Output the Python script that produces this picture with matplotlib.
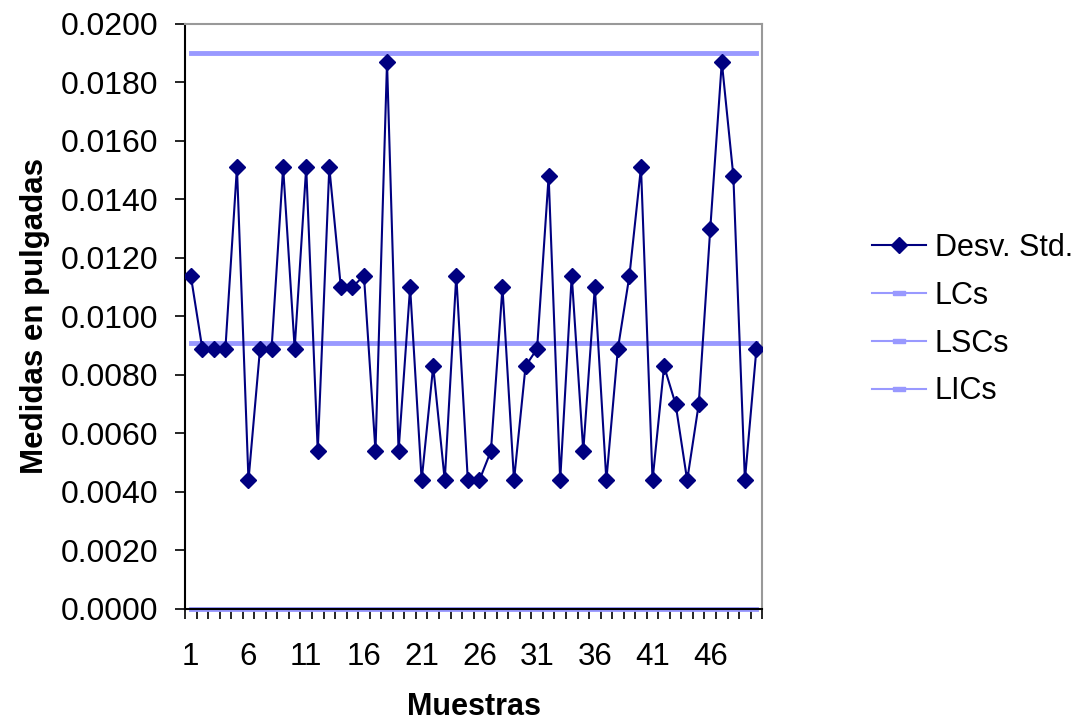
import numpy as np
import matplotlib.pyplot as plt
import matplotlib.lines as mlines

plt.rcParams['font.family'] = ['Liberation Sans', 'DejaVu Sans']

# desviacion estandar por muestra (50 muestras)
desv_std = [0.0114, 0.0089, 0.0089, 0.0089, 0.0151, 0.0044, 0.0089, 0.0089, 0.0151, 0.0089,
            0.0151, 0.0054, 0.0151, 0.0110, 0.0110, 0.0114, 0.0054, 0.0187, 0.0054, 0.0110,
            0.0044, 0.0083, 0.0044, 0.0114, 0.0044, 0.0044, 0.0054, 0.0110, 0.0044, 0.0083,
            0.0089, 0.0148, 0.0044, 0.0114, 0.0054, 0.0110, 0.0044, 0.0089, 0.0114, 0.0151,
            0.0044, 0.0083, 0.0070, 0.0044, 0.0070, 0.0130, 0.0187, 0.0148, 0.0044, 0.0089]
muestras = list(range(1, len(desv_std) + 1))
lc = 0.0091
lsc = 0.0190
lic = 0.0000
xtick_labels = ['1', '6', '11', '16', '21', '26', '31', '36', '41', '46']

fig = plt.figure(figsize=(10.85, 7.25), dpi=100)
ax = fig.add_axes([0.1705, 0.16, 0.532, 0.807])

n = len(muestras)
light = '#9999FF'
navy = '#000080'
dash = [(-1, -0.35), (1, -0.35), (1, 0.35), (-1, 0.35), (-1, -0.35)]

ax.plot(muestras, desv_std, color=navy, lw=1.5, marker='D', ms=8, label='Desv. Std.', zorder=3)
ax.plot(muestras, [lc] * n, color=light, lw=3.5, label='LCs', zorder=2)
ax.plot(muestras, [lsc] * n, color=light, lw=3.5, label='LSCs', zorder=2)
ax.plot(muestras, [lic] * n, color=light, lw=3.5, label='LICs', zorder=2, clip_on=False)

ax.set_xlim(0.5, n + 0.5)
ax.set_ylim(0, 0.02)
yt = np.arange(0, 0.0201, 0.002)
ax.set_yticks(yt)
ax.set_yticklabels(['%.4f' % v for v in yt])
ax.set_xticks([int(t) for t in xtick_labels])
ax.set_xticklabels(xtick_labels)
ax.set_xticks(np.arange(0.5, n + 1, 1), minor=True)
ax.tick_params(axis='x', which='major', length=0, pad=24, labelsize=22.5)
ax.tick_params(axis='x', which='minor', length=7, width=1.2, direction='out')
ax.tick_params(axis='y', length=7.2, width=1.2, labelsize=23, pad=12)

for s in ['left', 'bottom']:
    ax.spines[s].set_linewidth(1.5)
for s in ['top', 'right']:
    ax.spines[s].set_color('#999999')
    ax.spines[s].set_linewidth(1.5)

ax.set_xlabel('Muestras', fontsize=22, fontweight='bold', labelpad=14)
ax.set_ylabel('Medidas en pulgadas', fontsize=22.5, fontweight='bold', labelpad=8)

labels = ['Desv. Std.', 'LCs', 'LSCs', 'LICs']
handles = [mlines.Line2D([], [], color=navy, lw=1.5, marker='D', ms=8)] + \
          [mlines.Line2D([], [], color=light, lw=1.5, marker=dash, ms=8) for _ in range(3)]
fig.legend(handles, labels, loc='center left', bbox_to_anchor=(0.804, 0.559), frameon=False,
           fontsize=22, handlelength=1.75, labelspacing=0.58, handletextpad=0.3,
           borderaxespad=0, borderpad=0)

fig.savefig('out.png', dpi=100)
